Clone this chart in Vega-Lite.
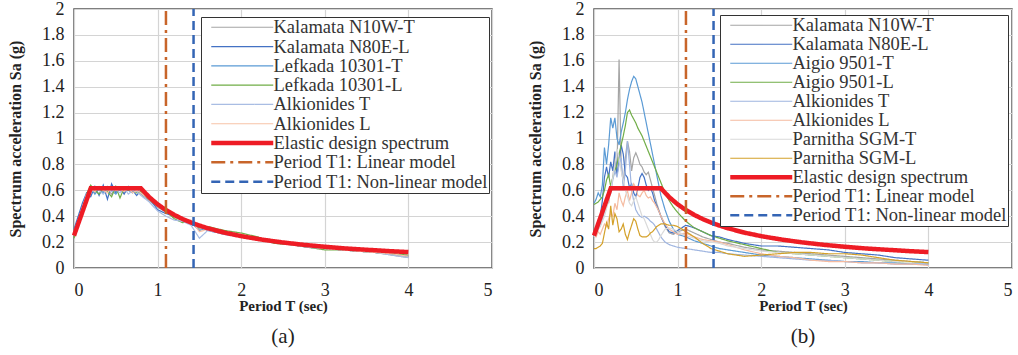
{
"$schema": "https://vega.github.io/schema/vega-lite/v6.json",
"padding": {"left": 6, "top": -1, "right": 0, "bottom": 0},
"background": "white",
"config": {
  "font": "Liberation Serif",
  "view": {"stroke": "#555555", "strokeWidth": 1.5},
  "axis": {"labelFont": "Liberation Serif", "labelFontSize": 18, "labelColor": "#222222", "titleFont": "Liberation Serif", "titleColor": "#222222", "titleFontWeight": "bold", "gridColor": "#d4d4d4", "gridWidth": 1.2, "ticks": false, "domain": false},
  "legend": {"title": null, "orient": "none", "strokeColor": "#333333", "fillColor": "#ffffff", "padding": 1, "labelFontSize": 18.5, "labelFont": "Liberation Serif", "labelColor": "#333333", "labelLimit": 400, "symbolType": "M-6.2,0H6.2", "symbolSize": 100, "symbolOffset": 31, "labelOffset": 22, "cornerRadius": 0},
  "title": {"font": "Liberation Serif", "fontSize": 21, "fontWeight": "normal", "color": "#222222"}
},
"datasets": {
  "spec": [
    {"s": "Elastic design spectrum", "T": 0, "v": 0.25},
    {"s": "Elastic design spectrum", "T": 0.2, "v": 0.615},
    {"s": "Elastic design spectrum", "T": 0.8, "v": 0.615},
    {"s": "Elastic design spectrum", "T": 0.9, "v": 0.547},
    {"s": "Elastic design spectrum", "T": 1.0, "v": 0.492},
    {"s": "Elastic design spectrum", "T": 1.1, "v": 0.447},
    {"s": "Elastic design spectrum", "T": 1.2, "v": 0.41},
    {"s": "Elastic design spectrum", "T": 1.3, "v": 0.378},
    {"s": "Elastic design spectrum", "T": 1.4, "v": 0.351},
    {"s": "Elastic design spectrum", "T": 1.5, "v": 0.328},
    {"s": "Elastic design spectrum", "T": 1.6, "v": 0.307},
    {"s": "Elastic design spectrum", "T": 1.8, "v": 0.273},
    {"s": "Elastic design spectrum", "T": 2.0, "v": 0.246},
    {"s": "Elastic design spectrum", "T": 2.25, "v": 0.219},
    {"s": "Elastic design spectrum", "T": 2.5, "v": 0.197},
    {"s": "Elastic design spectrum", "T": 2.75, "v": 0.179},
    {"s": "Elastic design spectrum", "T": 3.0, "v": 0.164},
    {"s": "Elastic design spectrum", "T": 3.25, "v": 0.151},
    {"s": "Elastic design spectrum", "T": 3.5, "v": 0.141},
    {"s": "Elastic design spectrum", "T": 3.75, "v": 0.131},
    {"s": "Elastic design spectrum", "T": 4.0, "v": 0.123}
  ],
  "t1": [
    {"s": "Period T1: Linear model", "T": 1.1, "v": 0},
    {"s": "Period T1: Linear model", "T": 1.1, "v": 2},
    {"s": "Period T1: Non-linear model", "T": 1.43, "v": 0},
    {"s": "Period T1: Non-linear model", "T": 1.43, "v": 2}
  ],
  "a": [
    {"T":0,"Kalamata N10W-T":0.27,"Kalamata N80E-L":0.30,"Lefkada 10301-T":0.26,"Lefkada 10301-L":0.23,"Alkionides T":0.28,"Alkionides L":0.25},
    {"T":0.05,"Kalamata N10W-T":0.36,"Kalamata N80E-L":0.40,"Lefkada 10301-T":0.35,"Lefkada 10301-L":0.33,"Alkionides T":0.37,"Alkionides L":0.35},
    {"T":0.1,"Kalamata N10W-T":0.46,"Kalamata N80E-L":0.50,"Lefkada 10301-T":0.45,"Lefkada 10301-L":0.44,"Alkionides T":0.47,"Alkionides L":0.46},
    {"T":0.15,"Kalamata N10W-T":0.56,"Kalamata N80E-L":0.58,"Lefkada 10301-T":0.55,"Lefkada 10301-L":0.57,"Alkionides T":0.57,"Alkionides L":0.56},
    {"T":0.2,"Kalamata N10W-T":0.60,"Kalamata N80E-L":0.55,"Lefkada 10301-T":0.62,"Lefkada 10301-L":0.64,"Alkionides T":0.58,"Alkionides L":0.61},
    {"T":0.25,"Kalamata N10W-T":0.58,"Kalamata N80E-L":0.63,"Lefkada 10301-T":0.57,"Lefkada 10301-L":0.60,"Alkionides T":0.62,"Alkionides L":0.59},
    {"T":0.3,"Kalamata N10W-T":0.62,"Kalamata N80E-L":0.56,"Lefkada 10301-T":0.61,"Lefkada 10301-L":0.57,"Alkionides T":0.60,"Alkionides L":0.63},
    {"T":0.35,"Kalamata N10W-T":0.59,"Kalamata N80E-L":0.64,"Lefkada 10301-T":0.58,"Lefkada 10301-L":0.62,"Alkionides T":0.57,"Alkionides L":0.60},
    {"T":0.4,"Kalamata N10W-T":0.61,"Kalamata N80E-L":0.53,"Lefkada 10301-T":0.63,"Lefkada 10301-L":0.59,"Alkionides T":0.61,"Alkionides L":0.58},
    {"T":0.45,"Kalamata N10W-T":0.57,"Kalamata N80E-L":0.65,"Lefkada 10301-T":0.60,"Lefkada 10301-L":0.55,"Alkionides T":0.59,"Alkionides L":0.62},
    {"T":0.5,"Kalamata N10W-T":0.62,"Kalamata N80E-L":0.58,"Lefkada 10301-T":0.57,"Lefkada 10301-L":0.63,"Alkionides T":0.61,"Alkionides L":0.60},
    {"T":0.55,"Kalamata N10W-T":0.60,"Kalamata N80E-L":0.62,"Lefkada 10301-T":0.61,"Lefkada 10301-L":0.54,"Alkionides T":0.58,"Alkionides L":0.61},
    {"T":0.6,"Kalamata N10W-T":0.58,"Kalamata N80E-L":0.57,"Lefkada 10301-T":0.59,"Lefkada 10301-L":0.62,"Alkionides T":0.62,"Alkionides L":0.59},
    {"T":0.65,"Kalamata N10W-T":0.61,"Kalamata N80E-L":0.63,"Lefkada 10301-T":0.60,"Lefkada 10301-L":0.60,"Alkionides T":0.57,"Alkionides L":0.62},
    {"T":0.7,"Kalamata N10W-T":0.59,"Kalamata N80E-L":0.60,"Lefkada 10301-T":0.58,"Lefkada 10301-L":0.61,"Alkionides T":0.60,"Alkionides L":0.58},
    {"T":0.75,"Kalamata N10W-T":0.60,"Kalamata N80E-L":0.56,"Lefkada 10301-T":0.61,"Lefkada 10301-L":0.58,"Alkionides T":0.59,"Alkionides L":0.60},
    {"T":0.8,"Kalamata N10W-T":0.57,"Kalamata N80E-L":0.60,"Lefkada 10301-T":0.58,"Lefkada 10301-L":0.59,"Alkionides T":0.56,"Alkionides L":0.58},
    {"T":0.9,"Kalamata N10W-T":0.52,"Kalamata N80E-L":0.54,"Lefkada 10301-T":0.55,"Lefkada 10301-L":0.53,"Alkionides T":0.51,"Alkionides L":0.54},
    {"T":1.0,"Kalamata N10W-T":0.47,"Kalamata N80E-L":0.45,"Lefkada 10301-T":0.50,"Lefkada 10301-L":0.48,"Alkionides T":0.44,"Alkionides L":0.48},
    {"T":1.1,"Kalamata N10W-T":0.43,"Kalamata N80E-L":0.42,"Lefkada 10301-T":0.45,"Lefkada 10301-L":0.44,"Alkionides T":0.40,"Alkionides L":0.45},
    {"T":1.2,"Kalamata N10W-T":0.39,"Kalamata N80E-L":0.40,"Lefkada 10301-T":0.41,"Lefkada 10301-L":0.38,"Alkionides T":0.37,"Alkionides L":0.40},
    {"T":1.3,"Kalamata N10W-T":0.37,"Kalamata N80E-L":0.38,"Lefkada 10301-T":0.36,"Lefkada 10301-L":0.35,"Alkionides T":0.36,"Alkionides L":0.37},
    {"T":1.4,"Kalamata N10W-T":0.35,"Kalamata N80E-L":0.34,"Lefkada 10301-T":0.35,"Lefkada 10301-L":0.36,"Alkionides T":0.33,"Alkionides L":0.37},
    {"T":1.5,"Kalamata N10W-T":0.30,"Kalamata N80E-L":0.32,"Lefkada 10301-T":0.29,"Lefkada 10301-L":0.31,"Alkionides T":0.23,"Alkionides L":0.28},
    {"T":1.6,"Kalamata N10W-T":0.31,"Kalamata N80E-L":0.29,"Lefkada 10301-T":0.31,"Lefkada 10301-L":0.32,"Alkionides T":0.29,"Alkionides L":0.30},
    {"T":1.8,"Kalamata N10W-T":0.28,"Kalamata N80E-L":0.26,"Lefkada 10301-T":0.28,"Lefkada 10301-L":0.29,"Alkionides T":0.26,"Alkionides L":0.28},
    {"T":2.0,"Kalamata N10W-T":0.25,"Kalamata N80E-L":0.24,"Lefkada 10301-T":0.25,"Lefkada 10301-L":0.27,"Alkionides T":0.24,"Alkionides L":0.26},
    {"T":2.2,"Kalamata N10W-T":0.22,"Kalamata N80E-L":0.22,"Lefkada 10301-T":0.23,"Lefkada 10301-L":0.24,"Alkionides T":0.22,"Alkionides L":0.23},
    {"T":2.4,"Kalamata N10W-T":0.19,"Kalamata N80E-L":0.20,"Lefkada 10301-T":0.20,"Lefkada 10301-L":0.19,"Alkionides T":0.20,"Alkionides L":0.20},
    {"T":2.6,"Kalamata N10W-T":0.18,"Kalamata N80E-L":0.18,"Lefkada 10301-T":0.18,"Lefkada 10301-L":0.18,"Alkionides T":0.18,"Alkionides L":0.18},
    {"T":2.8,"Kalamata N10W-T":0.17,"Kalamata N80E-L":0.16,"Lefkada 10301-T":0.17,"Lefkada 10301-L":0.16,"Alkionides T":0.16,"Alkionides L":0.17},
    {"T":3.0,"Kalamata N10W-T":0.15,"Kalamata N80E-L":0.15,"Lefkada 10301-T":0.16,"Lefkada 10301-L":0.14,"Alkionides T":0.15,"Alkionides L":0.15},
    {"T":3.2,"Kalamata N10W-T":0.14,"Kalamata N80E-L":0.14,"Lefkada 10301-T":0.15,"Lefkada 10301-L":0.14,"Alkionides T":0.14,"Alkionides L":0.14},
    {"T":3.4,"Kalamata N10W-T":0.13,"Kalamata N80E-L":0.13,"Lefkada 10301-T":0.14,"Lefkada 10301-L":0.13,"Alkionides T":0.13,"Alkionides L":0.13},
    {"T":3.6,"Kalamata N10W-T":0.12,"Kalamata N80E-L":0.12,"Lefkada 10301-T":0.12,"Lefkada 10301-L":0.12,"Alkionides T":0.12,"Alkionides L":0.12},
    {"T":3.8,"Kalamata N10W-T":0.10,"Kalamata N80E-L":0.11,"Lefkada 10301-T":0.11,"Lefkada 10301-L":0.11,"Alkionides T":0.10,"Alkionides L":0.11},
    {"T":4.0,"Kalamata N10W-T":0.08,"Kalamata N80E-L":0.09,"Lefkada 10301-T":0.09,"Lefkada 10301-L":0.10,"Alkionides T":0.08,"Alkionides L":0.09}
  ],
  "b": [
    {"T":0,"Kalamata N10W-T":0.25,"Kalamata N80E-L":0.24,"Aigio 9501-T":0.50,"Aigio 9501-L":0.49,"Alkionides T":0.24,"Alkionides L":0.25,"Parnitha SGM-T":0.24,"Parnitha SGM-L":0.15},
    {"T":0.025,"Kalamata N10W-T":0.27,"Kalamata N80E-L":0.27,"Aigio 9501-T":0.53,"Aigio 9501-L":0.50,"Alkionides T":0.27,"Alkionides L":0.24,"Parnitha SGM-T":0.26,"Parnitha SGM-L":0.15},
    {"T":0.05,"Kalamata N10W-T":0.30,"Kalamata N80E-L":0.33,"Aigio 9501-T":0.58,"Aigio 9501-L":0.51,"Alkionides T":0.30,"Alkionides L":0.28,"Parnitha SGM-T":0.30,"Parnitha SGM-L":0.16},
    {"T":0.075,"Kalamata N10W-T":0.33,"Kalamata N80E-L":0.40,"Aigio 9501-T":0.55,"Aigio 9501-L":0.53,"Alkionides T":0.33,"Alkionides L":0.26,"Parnitha SGM-T":0.32,"Parnitha SGM-L":0.17},
    {"T":0.1,"Kalamata N10W-T":0.40,"Kalamata N80E-L":0.52,"Aigio 9501-T":0.64,"Aigio 9501-L":0.55,"Alkionides T":0.37,"Alkionides L":0.30,"Parnitha SGM-T":0.36,"Parnitha SGM-L":0.19},
    {"T":0.125,"Kalamata N10W-T":0.45,"Kalamata N80E-L":0.70,"Aigio 9501-T":0.93,"Aigio 9501-L":0.60,"Alkionides T":0.44,"Alkionides L":0.34,"Parnitha SGM-T":0.40,"Parnitha SGM-L":0.27},
    {"T":0.15,"Kalamata N10W-T":0.55,"Kalamata N80E-L":0.78,"Aigio 9501-T":0.80,"Aigio 9501-L":0.68,"Alkionides T":0.52,"Alkionides L":0.32,"Parnitha SGM-T":0.46,"Parnitha SGM-L":0.35},
    {"T":0.175,"Kalamata N10W-T":0.50,"Kalamata N80E-L":0.70,"Aigio 9501-T":0.95,"Aigio 9501-L":0.72,"Alkionides T":0.60,"Alkionides L":0.38,"Parnitha SGM-T":0.52,"Parnitha SGM-L":0.30},
    {"T":0.2,"Kalamata N10W-T":0.62,"Kalamata N80E-L":0.82,"Aigio 9501-T":1.16,"Aigio 9501-L":0.63,"Alkionides T":0.58,"Alkionides L":0.42,"Parnitha SGM-T":0.60,"Parnitha SGM-L":0.48},
    {"T":0.225,"Kalamata N10W-T":0.70,"Kalamata N80E-L":0.75,"Aigio 9501-T":1.08,"Aigio 9501-L":0.70,"Alkionides T":0.68,"Alkionides L":0.40,"Parnitha SGM-T":0.70,"Parnitha SGM-L":0.33},
    {"T":0.25,"Kalamata N10W-T":0.85,"Kalamata N80E-L":0.90,"Aigio 9501-T":1.16,"Aigio 9501-L":0.75,"Alkionides T":0.75,"Alkionides L":0.50,"Parnitha SGM-T":0.80,"Parnitha SGM-L":0.42},
    {"T":0.275,"Kalamata N10W-T":0.75,"Kalamata N80E-L":0.72,"Aigio 9501-T":1.00,"Aigio 9501-L":0.80,"Alkionides T":0.70,"Alkionides L":0.45,"Parnitha SGM-T":0.92,"Parnitha SGM-L":0.38},
    {"T":0.3,"Kalamata N10W-T":1.61,"Kalamata N80E-L":0.82,"Aigio 9501-T":0.95,"Aigio 9501-L":0.88,"Alkionides T":0.80,"Alkionides L":0.58,"Parnitha SGM-T":0.85,"Parnitha SGM-L":0.28},
    {"T":0.325,"Kalamata N10W-T":0.80,"Kalamata N80E-L":0.95,"Aigio 9501-T":1.05,"Aigio 9501-L":0.95,"Alkionides T":0.85,"Alkionides L":0.52,"Parnitha SGM-T":0.75,"Parnitha SGM-L":0.30},
    {"T":0.35,"Kalamata N10W-T":0.65,"Kalamata N80E-L":0.88,"Aigio 9501-T":1.12,"Aigio 9501-L":1.02,"Alkionides T":0.62,"Alkionides L":0.48,"Parnitha SGM-T":0.68,"Parnitha SGM-L":0.34},
    {"T":0.375,"Kalamata N10W-T":0.85,"Kalamata N80E-L":0.72,"Aigio 9501-T":1.20,"Aigio 9501-L":1.10,"Alkionides T":0.75,"Alkionides L":0.55,"Parnitha SGM-T":0.60,"Parnitha SGM-L":0.26},
    {"T":0.4,"Kalamata N10W-T":0.98,"Kalamata N80E-L":0.70,"Aigio 9501-T":1.30,"Aigio 9501-L":1.20,"Alkionides T":0.98,"Alkionides L":0.60,"Parnitha SGM-T":0.55,"Parnitha SGM-L":0.22},
    {"T":0.425,"Kalamata N10W-T":0.90,"Kalamata N80E-L":0.62,"Aigio 9501-T":1.38,"Aigio 9501-L":1.22,"Alkionides T":0.80,"Alkionides L":0.52,"Parnitha SGM-T":0.50,"Parnitha SGM-L":0.28},
    {"T":0.45,"Kalamata N10W-T":0.75,"Kalamata N80E-L":0.65,"Aigio 9501-T":1.44,"Aigio 9501-L":1.18,"Alkionides T":0.60,"Alkionides L":0.58,"Parnitha SGM-T":0.48,"Parnitha SGM-L":0.33},
    {"T":0.475,"Kalamata N10W-T":0.85,"Kalamata N80E-L":0.58,"Aigio 9501-T":1.48,"Aigio 9501-L":1.15,"Alkionides T":0.52,"Alkionides L":0.65,"Parnitha SGM-T":0.52,"Parnitha SGM-L":0.38},
    {"T":0.5,"Kalamata N10W-T":0.89,"Kalamata N80E-L":0.55,"Aigio 9501-T":1.46,"Aigio 9501-L":1.12,"Alkionides T":0.45,"Alkionides L":0.62,"Parnitha SGM-T":0.55,"Parnitha SGM-L":0.36},
    {"T":0.525,"Kalamata N10W-T":0.85,"Kalamata N80E-L":0.62,"Aigio 9501-T":1.40,"Aigio 9501-L":1.08,"Alkionides T":0.42,"Alkionides L":0.56,"Parnitha SGM-T":0.50,"Parnitha SGM-L":0.30},
    {"T":0.55,"Kalamata N10W-T":0.80,"Kalamata N80E-L":0.70,"Aigio 9501-T":1.34,"Aigio 9501-L":1.05,"Alkionides T":0.40,"Alkionides L":0.55,"Parnitha SGM-T":0.45,"Parnitha SGM-L":0.25},
    {"T":0.575,"Kalamata N10W-T":0.78,"Kalamata N80E-L":0.73,"Aigio 9501-T":1.28,"Aigio 9501-L":1.02,"Alkionides T":0.39,"Alkionides L":0.58,"Parnitha SGM-T":0.40,"Parnitha SGM-L":0.24},
    {"T":0.6,"Kalamata N10W-T":0.74,"Kalamata N80E-L":0.70,"Aigio 9501-T":1.20,"Aigio 9501-L":0.98,"Alkionides T":0.40,"Alkionides L":0.60,"Parnitha SGM-T":0.38,"Parnitha SGM-L":0.24},
    {"T":0.625,"Kalamata N10W-T":0.72,"Kalamata N80E-L":0.64,"Aigio 9501-T":1.12,"Aigio 9501-L":0.94,"Alkionides T":0.39,"Alkionides L":0.56,"Parnitha SGM-T":0.34,"Parnitha SGM-L":0.24},
    {"T":0.65,"Kalamata N10W-T":0.74,"Kalamata N80E-L":0.60,"Aigio 9501-T":1.04,"Aigio 9501-L":0.90,"Alkionides T":0.38,"Alkionides L":0.54,"Parnitha SGM-T":0.30,"Parnitha SGM-L":0.25},
    {"T":0.675,"Kalamata N10W-T":0.68,"Kalamata N80E-L":0.62,"Aigio 9501-T":0.96,"Aigio 9501-L":0.86,"Alkionides T":0.36,"Alkionides L":0.55,"Parnitha SGM-T":0.26,"Parnitha SGM-L":0.27},
    {"T":0.7,"Kalamata N10W-T":0.62,"Kalamata N80E-L":0.58,"Aigio 9501-T":0.88,"Aigio 9501-L":0.82,"Alkionides T":0.35,"Alkionides L":0.52,"Parnitha SGM-T":0.22,"Parnitha SGM-L":0.28},
    {"T":0.725,"Kalamata N10W-T":0.56,"Kalamata N80E-L":0.52,"Aigio 9501-T":0.80,"Aigio 9501-L":0.78,"Alkionides T":0.33,"Alkionides L":0.50,"Parnitha SGM-T":0.20,"Parnitha SGM-L":0.30},
    {"T":0.75,"Kalamata N10W-T":0.50,"Kalamata N80E-L":0.48,"Aigio 9501-T":0.72,"Aigio 9501-L":0.74,"Alkionides T":0.30,"Alkionides L":0.47,"Parnitha SGM-T":0.20,"Parnitha SGM-L":0.32},
    {"T":0.775,"Kalamata N10W-T":0.45,"Kalamata N80E-L":0.44,"Aigio 9501-T":0.64,"Aigio 9501-L":0.70,"Alkionides T":0.27,"Alkionides L":0.44,"Parnitha SGM-T":0.22,"Parnitha SGM-L":0.33},
    {"T":0.8,"Kalamata N10W-T":0.40,"Kalamata N80E-L":0.40,"Aigio 9501-T":0.56,"Aigio 9501-L":0.66,"Alkionides T":0.24,"Alkionides L":0.40,"Parnitha SGM-T":0.25,"Parnitha SGM-L":0.34},
    {"T":0.85,"Kalamata N10W-T":0.32,"Kalamata N80E-L":0.33,"Aigio 9501-T":0.45,"Aigio 9501-L":0.58,"Alkionides T":0.20,"Alkionides L":0.34,"Parnitha SGM-T":0.30,"Parnitha SGM-L":0.34},
    {"T":0.9,"Kalamata N10W-T":0.27,"Kalamata N80E-L":0.28,"Aigio 9501-T":0.36,"Aigio 9501-L":0.52,"Alkionides T":0.18,"Alkionides L":0.30,"Parnitha SGM-T":0.31,"Parnitha SGM-L":0.33},
    {"T":0.95,"Kalamata N10W-T":0.26,"Kalamata N80E-L":0.27,"Aigio 9501-T":0.30,"Aigio 9501-L":0.47,"Alkionides T":0.17,"Alkionides L":0.28,"Parnitha SGM-T":0.30,"Parnitha SGM-L":0.33},
    {"T":1.0,"Kalamata N10W-T":0.28,"Kalamata N80E-L":0.29,"Aigio 9501-T":0.26,"Aigio 9501-L":0.43,"Alkionides T":0.16,"Alkionides L":0.26,"Parnitha SGM-T":0.28,"Parnitha SGM-L":0.32},
    {"T":1.1,"Kalamata N10W-T":0.30,"Kalamata N80E-L":0.33,"Aigio 9501-T":0.24,"Aigio 9501-L":0.36,"Alkionides T":0.15,"Alkionides L":0.27,"Parnitha SGM-T":0.25,"Parnitha SGM-L":0.28},
    {"T":1.2,"Kalamata N10W-T":0.27,"Kalamata N80E-L":0.31,"Aigio 9501-T":0.21,"Aigio 9501-L":0.31,"Alkionides T":0.14,"Alkionides L":0.24,"Parnitha SGM-T":0.23,"Parnitha SGM-L":0.24},
    {"T":1.3,"Kalamata N10W-T":0.24,"Kalamata N80E-L":0.28,"Aigio 9501-T":0.19,"Aigio 9501-L":0.28,"Alkionides T":0.13,"Alkionides L":0.22,"Parnitha SGM-T":0.21,"Parnitha SGM-L":0.19},
    {"T":1.4,"Kalamata N10W-T":0.22,"Kalamata N80E-L":0.25,"Aigio 9501-T":0.17,"Aigio 9501-L":0.25,"Alkionides T":0.12,"Alkionides L":0.21,"Parnitha SGM-T":0.20,"Parnitha SGM-L":0.15},
    {"T":1.5,"Kalamata N10W-T":0.20,"Kalamata N80E-L":0.24,"Aigio 9501-T":0.15,"Aigio 9501-L":0.23,"Alkionides T":0.12,"Alkionides L":0.20,"Parnitha SGM-T":0.19,"Parnitha SGM-L":0.13},
    {"T":1.6,"Kalamata N10W-T":0.19,"Kalamata N80E-L":0.22,"Aigio 9501-T":0.14,"Aigio 9501-L":0.21,"Alkionides T":0.11,"Alkionides L":0.18,"Parnitha SGM-T":0.17,"Parnitha SGM-L":0.11},
    {"T":1.8,"Kalamata N10W-T":0.16,"Kalamata N80E-L":0.19,"Aigio 9501-T":0.12,"Aigio 9501-L":0.18,"Alkionides T":0.10,"Alkionides L":0.14,"Parnitha SGM-T":0.15,"Parnitha SGM-L":0.09},
    {"T":2.0,"Kalamata N10W-T":0.14,"Kalamata N80E-L":0.17,"Aigio 9501-T":0.10,"Aigio 9501-L":0.15,"Alkionides T":0.09,"Alkionides L":0.11,"Parnitha SGM-T":0.13,"Parnitha SGM-L":0.10},
    {"T":2.2,"Kalamata N10W-T":0.13,"Kalamata N80E-L":0.17,"Aigio 9501-T":0.09,"Aigio 9501-L":0.12,"Alkionides T":0.08,"Alkionides L":0.09,"Parnitha SGM-T":0.12,"Parnitha SGM-L":0.11},
    {"T":2.4,"Kalamata N10W-T":0.12,"Kalamata N80E-L":0.16,"Aigio 9501-T":0.08,"Aigio 9501-L":0.11,"Alkionides T":0.07,"Alkionides L":0.08,"Parnitha SGM-T":0.11,"Parnitha SGM-L":0.12},
    {"T":2.6,"Kalamata N10W-T":0.11,"Kalamata N80E-L":0.15,"Aigio 9501-T":0.07,"Aigio 9501-L":0.10,"Alkionides T":0.06,"Alkionides L":0.06,"Parnitha SGM-T":0.10,"Parnitha SGM-L":0.12},
    {"T":2.8,"Kalamata N10W-T":0.10,"Kalamata N80E-L":0.14,"Aigio 9501-T":0.06,"Aigio 9501-L":0.09,"Alkionides T":0.06,"Alkionides L":0.05,"Parnitha SGM-T":0.09,"Parnitha SGM-L":0.11},
    {"T":3.0,"Kalamata N10W-T":0.09,"Kalamata N80E-L":0.12,"Aigio 9501-T":0.05,"Aigio 9501-L":0.08,"Alkionides T":0.05,"Alkionides L":0.05,"Parnitha SGM-T":0.08,"Parnitha SGM-L":0.11},
    {"T":3.2,"Kalamata N10W-T":0.08,"Kalamata N80E-L":0.11,"Aigio 9501-T":0.05,"Aigio 9501-L":0.07,"Alkionides T":0.04,"Alkionides L":0.04,"Parnitha SGM-T":0.07,"Parnitha SGM-L":0.10},
    {"T":3.4,"Kalamata N10W-T":0.07,"Kalamata N80E-L":0.10,"Aigio 9501-T":0.04,"Aigio 9501-L":0.06,"Alkionides T":0.04,"Alkionides L":0.04,"Parnitha SGM-T":0.06,"Parnitha SGM-L":0.08},
    {"T":3.6,"Kalamata N10W-T":0.06,"Kalamata N80E-L":0.08,"Aigio 9501-T":0.04,"Aigio 9501-L":0.05,"Alkionides T":0.03,"Alkionides L":0.03,"Parnitha SGM-T":0.05,"Parnitha SGM-L":0.06},
    {"T":3.8,"Kalamata N10W-T":0.05,"Kalamata N80E-L":0.07,"Aigio 9501-T":0.03,"Aigio 9501-L":0.05,"Alkionides T":0.03,"Alkionides L":0.03,"Parnitha SGM-T":0.05,"Parnitha SGM-L":0.05},
    {"T":4.0,"Kalamata N10W-T":0.04,"Kalamata N80E-L":0.06,"Aigio 9501-T":0.03,"Aigio 9501-L":0.04,"Alkionides T":0.03,"Alkionides L":0.02,"Parnitha SGM-T":0.04,"Parnitha SGM-L":0.04}
  ]
},
"spacing": 33,
"resolve": {"scale": {"color": "independent", "strokeDash": "independent", "strokeWidth": "independent"}, "legend": {"color": "independent", "strokeDash": "independent", "strokeWidth": "independent"}},
"hconcat": [
  {
    "width": 418, "height": 259,
    "title": {"text": "(a)", "orient": "bottom", "offset": 13},
    "encoding": {
      "x": {"field": "T", "type": "quantitative", "scale": {"domain": [0, 5], "nice": false}, "axis": {"values": [0,1,2,3,4,5], "title": "Period T (sec)", "titleFontSize": 15, "labelPadding": 13, "titlePadding": -1, "format": "~g"}},
      "y": {"field": "v", "type": "quantitative", "scale": {"domain": [0, 2], "nice": false}, "axis": {"values": [0,0.2,0.4,0.6,0.8,1,1.2,1.4,1.6,1.8,2], "title": "Spectrum acceleration Sa (g)", "titleFontSize": 16, "labelPadding": 10, "titlePadding": 18, "format": "~g"}},
      "color": {"field": "s", "type": "nominal", "scale": {"domain": ["Kalamata N10W-T","Kalamata N80E-L","Lefkada 10301-T","Lefkada 10301-L","Alkionides T","Alkionides L","Elastic design spectrum","Period T1: Linear model","Period T1: Non-linear model"], "range": ["#a5a5a5","#4472c4","#5b9bd5","#70ad47","#a9bde3","#f7c3a8","#ee1c25","#c8652a","#3465b5"]}, "legend": {"legendX": 127, "legendY": 8, "rowPadding": 0.3}},
      "strokeDash": {"field": "s", "type": "nominal", "scale": {"domain": ["Kalamata N10W-T","Kalamata N80E-L","Lefkada 10301-T","Lefkada 10301-L","Alkionides T","Alkionides L","Elastic design spectrum","Period T1: Linear model","Period T1: Non-linear model"], "range": [[1,0],[1,0],[1,0],[1,0],[1,0],[1,0],[1,0],[14,5,3,5],[9,5]]}, "legend": {"legendX": 127, "legendY": 8, "rowPadding": 0.3}},
      "strokeWidth": {"field": "s", "type": "nominal", "scale": {"type": "ordinal", "domain": ["Kalamata N10W-T","Kalamata N80E-L","Lefkada 10301-T","Lefkada 10301-L","Alkionides T","Alkionides L","Elastic design spectrum","Period T1: Linear model","Period T1: Non-linear model"], "range": [1.2,1.2,1.2,1.2,1.2,1.2,4.5,2.5,2.5]}, "legend": {"legendX": 127, "legendY": 8, "rowPadding": 0.3}}
    },
    "layer": [
      {"data": {"name": "a"}, "transform": [{"fold": ["Kalamata N10W-T","Kalamata N80E-L","Lefkada 10301-T","Lefkada 10301-L","Alkionides T","Alkionides L"], "as": ["s", "v"]}], "mark": {"type": "line"}},
      {"data": {"name": "spec"}, "mark": {"type": "line"}},
      {"data": {"name": "t1"}, "mark": {"type": "line"}}
    ]
  },
  {
    "width": 418, "height": 259,
    "title": {"text": "(b)", "orient": "bottom", "offset": 13},
    "encoding": {
      "x": {"field": "T", "type": "quantitative", "scale": {"domain": [0, 5], "nice": false}, "axis": {"values": [0,1,2,3,4,5], "title": "Period T (sec)", "titleFontSize": 15, "labelPadding": 13, "titlePadding": -1, "format": "~g"}},
      "y": {"field": "v", "type": "quantitative", "scale": {"domain": [0, 2], "nice": false}, "axis": {"values": [0,0.2,0.4,0.6,0.8,1,1.2,1.4,1.6,1.8,2], "title": "Spectrum acceleration Sa (g)", "titleFontSize": 16, "labelPadding": 10, "titlePadding": 18, "format": "~g"}},
      "color": {"field": "s", "type": "nominal", "scale": {"domain": ["Kalamata N10W-T","Kalamata N80E-L","Aigio 9501-T","Aigio 9501-L","Alkionides T","Alkionides L","Parnitha SGM-T","Parnitha SGM-L","Elastic design spectrum","Period T1: Linear model","Period T1: Non-linear model"], "range": ["#a5a5a5","#4472c4","#5b9bd5","#70ad47","#9fb5e0","#f5bba0","#d9d9d9","#d4a12a","#ee1c25","#c8652a","#3465b5"]}, "legend": {"legendX": 126, "legendY": 6, "rowPadding": -1.4}},
      "strokeDash": {"field": "s", "type": "nominal", "scale": {"domain": ["Kalamata N10W-T","Kalamata N80E-L","Aigio 9501-T","Aigio 9501-L","Alkionides T","Alkionides L","Parnitha SGM-T","Parnitha SGM-L","Elastic design spectrum","Period T1: Linear model","Period T1: Non-linear model"], "range": [[1,0],[1,0],[1,0],[1,0],[1,0],[1,0],[1,0],[1,0],[1,0],[14,5,3,5],[9,5]]}, "legend": {"legendX": 126, "legendY": 6, "rowPadding": -1.4}},
      "strokeWidth": {"field": "s", "type": "nominal", "scale": {"type": "ordinal", "domain": ["Kalamata N10W-T","Kalamata N80E-L","Aigio 9501-T","Aigio 9501-L","Alkionides T","Alkionides L","Parnitha SGM-T","Parnitha SGM-L","Elastic design spectrum","Period T1: Linear model","Period T1: Non-linear model"], "range": [1.2,1.2,1.2,1.2,1.2,1.2,1.2,1.2,4.5,2.5,2.5]}, "legend": {"legendX": 126, "legendY": 6, "rowPadding": -1.4}}
    },
    "layer": [
      {"data": {"name": "b"}, "transform": [{"fold": ["Kalamata N10W-T","Kalamata N80E-L","Aigio 9501-T","Aigio 9501-L","Alkionides T","Alkionides L","Parnitha SGM-T","Parnitha SGM-L"], "as": ["s", "v"]}], "mark": {"type": "line"}},
      {"data": {"name": "spec"}, "mark": {"type": "line"}},
      {"data": {"name": "t1"}, "mark": {"type": "line"}}
    ]
  }
]
}
